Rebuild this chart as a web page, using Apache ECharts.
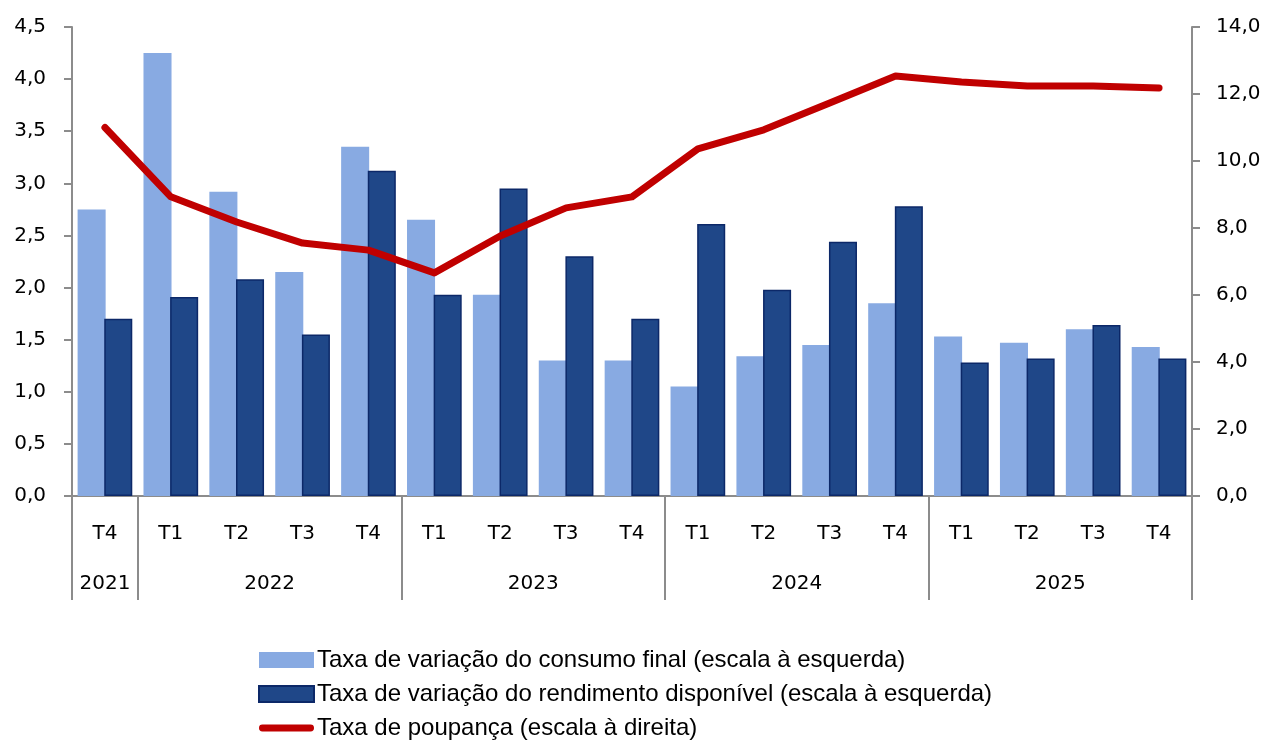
<!DOCTYPE html>
<html>
<head>
<meta charset="utf-8">
<script src="https://cdn.jsdelivr.net/npm/echarts@6/dist/echarts.min.js"></script>
<style>
  html, body { margin: 0; padding: 0; background: #fff; }
  #chart { width: 1267px; height: 742px; }
</style>
</head>
<body>
<div id="chart"></div>
<script>
// trimestres (2021 T4 ... 2025 T4)
var quarters = ['T4', 'T1', 'T2', 'T3', 'T4', 'T1', 'T2', 'T3', 'T4', 'T1', 'T2', 'T3', 'T4', 'T1', 'T2', 'T3', 'T4']
// anos: posicao central (em unidades de categoria) -> rotulo
var yearPos = [0.5, 3, 7, 11, 15]
var yearLabels = ['2021', '2022', '2023', '2024', '2025']
// indices onde comeca cada ano (separadores)
var yearStarts = [0, 1, 5, 9, 13]

var consumo = [2.75, 4.25, 2.92, 2.15, 3.35, 2.65, 1.93, 1.30, 1.30, 1.05, 1.34, 1.45, 1.85, 1.53, 1.47, 1.60, 1.43]
var rendimento = [1.70, 1.91, 2.08, 1.55, 3.12, 1.93, 2.95, 2.30, 1.70, 2.61, 1.98, 2.44, 2.78, 1.28, 1.32, 1.64, 1.32]
var poupanca = [11.0, 8.93, 8.18, 7.55, 7.34, 6.66, 7.76, 8.6, 8.93, 10.36, 10.93, 11.73, 12.54, 12.36, 12.24, 12.24, 12.18]

var axisFont = 'DejaVu Sans'
var legendFont = 'Liberation Sans'
var axisGray = '#8c8c8c'

function fmt(v) {
  return v.toFixed(1).replace('.', ',')
}

var chart = echarts.init(document.getElementById('chart'))
chart.setOption({
  animation: false,
  textStyle: { fontFamily: axisFont },
  grid: { left: 72, right: 75, top: 27, bottom: 246, containLabel: false },
  legend: {
    orient: 'vertical',
    left: 258,
    top: 648,
    padding: 0,
    itemWidth: 55,
    itemHeight: 16,
    itemGap: 10,
    textStyle: { fontSize: 24, lineHeight: 24, color: '#000', fontFamily: legendFont, padding: [0, 0, 0, -2] },
    data: [
      { name: 'Taxa de variação do consumo final (escala à esquerda)', icon: 'rect' },
      { name: 'Taxa de variação do rendimento disponível (escala à esquerda)', icon: 'rect' },
      {
        name: 'Taxa de poupança (escala à direita)',
        icon: 'path://M3.5,0 L52.5,0 A3.5,3.5 0 0 1 52.5,7 L3.5,7 A3.5,3.5 0 0 1 3.5,0 Z',
        itemStyle: { color: '#c00000', borderWidth: 0 }
      }
    ]
  },
  xAxis: [{
    type: 'category',
    data: quarters,
    boundaryGap: true,
    axisLine: { lineStyle: { color: axisGray, width: 2 } },
    axisTick: {
      show: true,
      length: 104,
      lineStyle: { color: axisGray, width: 2 },
      interval: function(index) {
        return yearStarts.indexOf(index) >= 0
      }
    },
    axisLabel: { interval: 0, fontSize: 20, color: '#000', margin: 28 }
  }, {
    type: 'value',
    position: 'bottom',
    min: 0,
    max: 17,
    interval: 0.5,
    axisLine: { show: false },
    axisTick: { show: false },
    splitLine: { show: false },
    axisLabel: {
      fontSize: 20,
      color: '#000',
      margin: 78,
      showMinLabel: true,
      showMaxLabel: true,
      formatter: function(v) {
        var i = yearPos.indexOf(v)
        return i >= 0 ? yearLabels[i] : ''
      }
    }
  }],
  yAxis: [{
    type: 'value',
    min: 0,
    max: 4.5,
    interval: 0.5,
    axisLine: { show: true, lineStyle: { color: axisGray, width: 2 } },
    axisTick: { show: true, length: 8, lineStyle: { color: axisGray, width: 2 } },
    splitLine: { show: false },
    axisLabel: { fontSize: 20, color: '#000', margin: 26, formatter: fmt }
  }, {
    type: 'value',
    min: 0,
    max: 14,
    interval: 2,
    position: 'right',
    axisLine: { show: true, lineStyle: { color: axisGray, width: 2 } },
    axisTick: { show: true, length: 8, lineStyle: { color: axisGray, width: 2 } },
    splitLine: { show: false },
    axisLabel: { fontSize: 20, color: '#000', margin: 24, formatter: fmt }
  }],
  series: [{
    type: 'bar',
    name: 'Taxa de variação do consumo final (escala à esquerda)',
    data: consumo,
    xAxisIndex: 0,
    yAxisIndex: 0,
    barCategoryGap: '17%',
    barGap: '-5%',
    itemStyle: { color: '#88aae2' }
  }, {
    type: 'bar',
    name: 'Taxa de variação do rendimento disponível (escala à esquerda)',
    data: rendimento,
    xAxisIndex: 0,
    yAxisIndex: 0,
    itemStyle: { color: '#1f4788', borderColor: '#0c2868', borderWidth: 1.5 }
  }, {
    type: 'line',
    name: 'Taxa de poupança (escala à direita)',
    data: poupanca,
    xAxisIndex: 0,
    yAxisIndex: 1,
    symbol: 'none',
    itemStyle: { color: '#c00000' },
    lineStyle: { color: '#c00000', width: 7, cap: 'round', join: 'round' }
  }]
})
</script>
</body>
</html>
